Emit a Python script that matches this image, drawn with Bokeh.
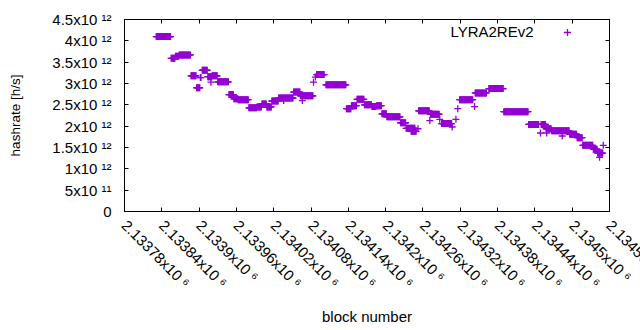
import math
from bokeh.plotting import figure
from bokeh.models import Range1d, FixedTicker, LinearAxis, Label, Legend, LegendItem, ColumnDataSource
from bokeh.embed import file_html
from bokeh.resources import INLINE

# Hashrate estimate segments: first block, last block, value (x10^12 h/s)
seg_start = [2133831, 2133855, 2133862, 2133868, 2133887, 2133896, 2133902, 2133905, 2133914, 2133919,
             2133921, 2133930, 2133948, 2133956, 2133963, 2133980, 2133993, 2134001, 2134009, 2134017,
             2134028, 2134036, 2134052, 2134063, 2134066, 2134084, 2134087, 2134089, 2134104, 2134137,
             2134145, 2134154, 2134166, 2134178, 2134185, 2134194, 2134202, 2134224, 2134233, 2134241,
             2134252, 2134253, 2134271, 2134272, 2134287, 2134290, 2134307, 2134313, 2134316, 2134319,
             2134343, 2134344, 2134366, 2134390, 2134430, 2134449, 2134450, 2134458, 2134459, 2134467,
             2134484, 2134496, 2134508, 2134517, 2134534, 2134541, 2134544, 2134550]
seg_end = [2133854, 2133861, 2133867, 2133886, 2133895, 2133901, 2133903, 2133913, 2133920, 2133919,
           2133929, 2133947, 2133955, 2133962, 2133979, 2133992, 2134000, 2134008, 2134016, 2134027,
           2134051, 2134036, 2134062, 2134083, 2134066, 2134084, 2134087, 2134101, 2134136, 2134144,
           2134153, 2134165, 2134177, 2134184, 2134193, 2134201, 2134223, 2134232, 2134247, 2134249,
           2134252, 2134270, 2134271, 2134286, 2134287, 2134306, 2134307, 2134313, 2134316, 2134340,
           2134343, 2134362, 2134389, 2134429, 2134446, 2134449, 2134457, 2134466, 2134459, 2134495,
           2134484, 2134507, 2134516, 2134533, 2134540, 2134549, 2134544, 2134550]
seg_value = [4.10, 3.59, 3.64, 3.67, 3.18, 2.90, 3.14, 3.31, 3.16, 3.03,
             3.18, 3.04, 2.74, 2.64, 2.62, 2.43, 2.45, 2.52, 2.45, 2.59,
             2.66, 2.60, 2.80, 2.71, 2.60, 3.03, 3.15, 3.21, 2.97, 2.41,
             2.48, 2.63, 2.50, 2.46, 2.48, 2.29, 2.22, 2.08, 1.95, 1.88,
             1.94, 2.36, 2.13, 2.28, 2.16, 2.06, 1.98, 2.16, 2.41, 2.62,
             2.46, 2.78, 2.88, 2.34, 2.04, 1.84, 2.04, 1.94, 1.84, 1.89,
             1.77, 1.81, 1.73, 1.55, 1.46, 1.37, 1.27, 1.55]

x_ticks = [2133780, 2133840, 2133900, 2133960, 2134020, 2134080, 2134140,
           2134200, 2134260, 2134320, 2134380, 2134440, 2134500, 2134560]
x_tick_labels = ["2.13378x10 \u2076", "2.13384x10 \u2076", "2.1339x10 \u2076", "2.13396x10 \u2076",
                 "2.13402x10 \u2076", "2.13408x10 \u2076", "2.13414x10 \u2076", "2.1342x10 \u2076",
                 "2.13426x10 \u2076", "2.13432x10 \u2076", "2.13438x10 \u2076", "2.13444x10 \u2076",
                 "2.1345x10 \u2076", "2.13456x10 \u2076"]
y_ticks = [0, 500000000000, 1000000000000, 1500000000000, 2000000000000, 2500000000000,
           3000000000000, 3500000000000, 4000000000000, 4500000000000]
y_tick_labels = ["0", "5x10 \u00b9\u00b9", "1x10 \u00b9\u00b2", "1.5x10 \u00b9\u00b2", "2x10 \u00b9\u00b2",
                 "2.5x10 \u00b9\u00b2", "3x10 \u00b9\u00b2", "3.5x10 \u00b9\u00b2", "4x10 \u00b9\u00b2",
                 "4.5x10 \u00b9\u00b2"]

series_name = "LYRA2REv2"
x_title = "block number"
y_title = "hashrate [h/s]"
color = "#9400D3"
FONT = "Liberation Sans"

xs, ys = [], []
for s, e, v in zip(seg_start, seg_end, seg_value):
    for b in range(s, e + 1):
        xs.append(b)
        ys.append(v * 1e12)
src = ColumnDataSource(data=dict(block=xs, hashrate=ys))

x0, x1 = x_ticks[0], x_ticks[-1]
y0, y1 = y_ticks[0], y_ticks[-1]

p = figure(frame_width=485, frame_height=192, output_backend="svg", toolbar_location=None,
           x_range=Range1d(x0, x1), y_range=Range1d(y0, y1),
           min_border=0, min_border_left=124, min_border_right=31,
           min_border_top=19, min_border_bottom=119)
p.grid.visible = False
p.outline_line_color = "black"
p.outline_line_width = 1
p.background_fill_color = "white"
p.border_fill_color = "white"

r = p.scatter("block", "hashrate", source=src, marker="cross", size=7,
              line_color=color, line_width=1.3)


def base_axis(ax, ticks):
    ax.ticker = FixedTicker(ticks=ticks)
    ax.major_tick_in = 4
    ax.major_tick_out = 0
    ax.minor_tick_line_color = None
    ax.axis_line_color = "black"
    ax.major_tick_line_color = "black"
    ax.major_label_text_font = FONT
    ax.major_label_text_color = "black"
    ax.axis_label_text_font = FONT
    ax.axis_label_text_font_style = "normal"
    ax.axis_label_text_color = "black"


def tick_only(ax, ticks):
    base_axis(ax, ticks)
    ax.major_label_text_color = None
    ax.major_label_text_font_size = "1px"
    ax.major_label_standoff = 0


# Bokeh pulls the outermost tick label back inside the canvas; the original lets the last
# label run off the edge.  A blank label on the very last position keeps the real last label
# (half a block to the left) where it belongs, so it is cut at the edge like the original.
label_ticks = x_ticks[:-1] + [x_ticks[-1] - 0.5, x_ticks[-1]]
label_texts = x_tick_labels + [" "]

xax = p.xaxis[0]
base_axis(xax, label_ticks)
xax.major_label_overrides = {t: l for t, l in zip(label_ticks, label_texts)}
xax.major_label_orientation = -math.pi / 4
xax.major_label_text_font_size = "15px"
xax.major_label_standoff = 11
xax.axis_label = x_title
xax.axis_label_text_font_size = "15px"
xax.axis_label_standoff = 8

yax = p.yaxis[0]
base_axis(yax, y_ticks)
yax.major_label_overrides = {t: l for t, l in zip(y_ticks, y_tick_labels)}
yax.major_label_text_font_size = "15px"
yax.major_label_standoff = 13
yax.axis_label = y_title
yax.axis_label_text_font_size = "13.5px"
yax.axis_label_standoff = 26

top = LinearAxis()
tick_only(top, x_ticks)
p.add_layout(top, "above")
right = LinearAxis()
tick_only(right, y_ticks)
p.add_layout(right, "right")

# key: name right-aligned, marker sample to its right
p.add_layout(Label(x=x1, y=y1, x_units="data", y_units="data", x_offset=-76, y_offset=-12,
                   text=series_name, text_align="right", text_baseline="middle",
                   text_font=FONT, text_font_size="15px", text_color="black"))
leg = Legend(items=[LegendItem(label=" ", renderers=[r])], location=(434, 170),
             glyph_width=18, glyph_height=18, padding=0, margin=0, spacing=0,
             border_line_color=None, background_fill_alpha=0, label_text_font_size="1px",
             label_width=0, label_standoff=0)
p.add_layout(leg)

open("out.html", "w").write(file_html(p, INLINE))
